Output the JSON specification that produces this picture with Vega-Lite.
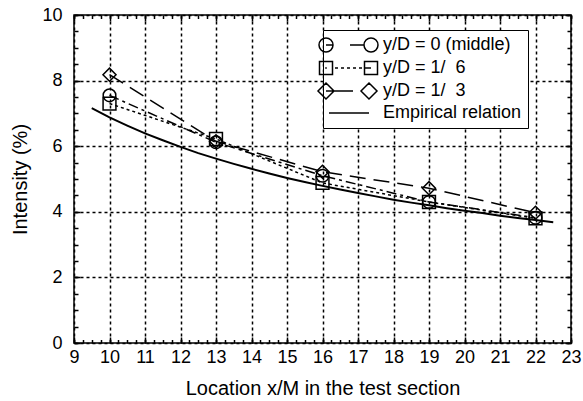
{
  "$schema": "https://vega.github.io/schema/vega-lite/v6.json",
  "width": 497,
  "height": 328,
  "autosize": {"type": "none"},
  "padding": {"left": 74, "top": 15, "right": 12, "bottom": 58},
  "background": "white",
  "config": {
    "view": {"stroke": "black", "strokeWidth": 1.5},
    "font": "Liberation Sans",
    "axis": {"labelFont": "Liberation Sans", "titleFont": "Liberation Sans", "labelColor": "black", "titleColor": "black", "tickColor": "black", "titleFontWeight": "normal", "domain": false}
  },
  "datasets": {
    "pts": [
      {"x": 10, "y": 7.55, "series": "y/D = 0 (middle)"},
      {"x": 13, "y": 6.12, "series": "y/D = 0 (middle)"},
      {"x": 16, "y": 5.1, "series": "y/D = 0 (middle)"},
      {"x": 19, "y": 4.3, "series": "y/D = 0 (middle)"},
      {"x": 22, "y": 3.82, "series": "y/D = 0 (middle)"},
      {"x": 10, "y": 7.3, "series": "y/D = 1/\u00a0\u00a06"},
      {"x": 13, "y": 6.22, "series": "y/D = 1/\u00a0\u00a06"},
      {"x": 16, "y": 4.88, "series": "y/D = 1/\u00a0\u00a06"},
      {"x": 19, "y": 4.3, "series": "y/D = 1/\u00a0\u00a06"},
      {"x": 22, "y": 3.8, "series": "y/D = 1/\u00a0\u00a06"},
      {"x": 10, "y": 8.18, "series": "y/D = 1/\u00a0\u00a03"},
      {"x": 13, "y": 6.15, "series": "y/D = 1/\u00a0\u00a03"},
      {"x": 16, "y": 5.22, "series": "y/D = 1/\u00a0\u00a03"},
      {"x": 19, "y": 4.72, "series": "y/D = 1/\u00a0\u00a03"},
      {"x": 22, "y": 3.97, "series": "y/D = 1/\u00a0\u00a03"}
    ],
    "emp": [
      {"x": 9.5, "y": 7.16}, {"x": 10, "y": 6.88}, {"x": 10.5, "y": 6.63}, {"x": 11, "y": 6.39},
      {"x": 11.5, "y": 6.18}, {"x": 12, "y": 5.98}, {"x": 12.5, "y": 5.79}, {"x": 13, "y": 5.62},
      {"x": 13.5, "y": 5.46}, {"x": 14, "y": 5.31}, {"x": 14.5, "y": 5.17}, {"x": 15, "y": 5.03},
      {"x": 15.5, "y": 4.91}, {"x": 16, "y": 4.79}, {"x": 16.5, "y": 4.68}, {"x": 17, "y": 4.57},
      {"x": 17.5, "y": 4.47}, {"x": 18, "y": 4.37}, {"x": 18.5, "y": 4.28}, {"x": 19, "y": 4.2},
      {"x": 19.5, "y": 4.11}, {"x": 20, "y": 4.03}, {"x": 20.5, "y": 3.96}, {"x": 21, "y": 3.88},
      {"x": 21.5, "y": 3.81}, {"x": 22, "y": 3.75}, {"x": 22.5, "y": 3.68}
    ]
  },
  "resolve": {"scale": {"shape": "independent"}, "axis": {"x": "independent", "y": "independent"}},
  "layer": [
    {
      "data": {"name": "emp"},
      "mark": {"type": "line", "color": "black", "strokeWidth": 2},
      "encoding": {
        "x": {"field": "x", "type": "quantitative", "scale": {"domain": [9, 23], "nice": false, "zero": false},
          "axis": {"orient": "bottom", "values": [9,10,11,12,13,14,15,16,17,18,19,20,21,22,23], "title": "Location x/M in the test section",
            "grid": true, "gridColor": "black", "gridDash": [3, 3], "gridWidth": 1.5, "gridOpacity": 1,
            "tickSize": -6, "tickWidth": 1.5, "labelPadding": 11, "labelFontSize": 18, "labelFlush": false, "labelOverlap": false,
            "titleFontSize": 20, "titleY": 51, "titleBaseline": "alphabetic"}},
        "y": {"field": "y", "type": "quantitative", "scale": {"domain": [0, 10], "nice": false, "zero": false},
          "axis": {"orient": "left", "values": [0,2,4,6,8,10], "title": "Intensity (%)",
            "grid": true, "gridColor": "black", "gridDash": [3, 3], "gridWidth": 1.5, "gridOpacity": 1,
            "tickSize": -6, "tickWidth": 1.5, "labelPadding": 18, "labelFontSize": 18, "labelOverlap": false, "labelFlush": false,
            "titleFontSize": 20, "titleX": -54, "titleY": 164, "titleBaseline": "middle", "titleAngle": -90}}
      }
    },
    {
      "data": {"name": "pts"},
      "mark": {"type": "line", "color": "black", "strokeWidth": 1.5},
      "encoding": {
        "x": {"field": "x", "type": "quantitative",
          "axis": {"orient": "bottom", "values": [9,9.25,9.5,9.75,10,10.25,10.5,10.75,11,11.25,11.5,11.75,12,12.25,12.5,12.75,13,13.25,13.5,13.75,14,14.25,14.5,14.75,15,15.25,15.5,15.75,16,16.25,16.5,16.75,17,17.25,17.5,17.75,18,18.25,18.5,18.75,19,19.25,19.5,19.75,20,20.25,20.5,20.75,21,21.25,21.5,21.75,22,22.25,22.5,22.75,23],
            "title": null, "labels": false, "grid": false, "tickSize": -3.5, "tickWidth": 1.5}},
        "y": {"field": "y", "type": "quantitative",
          "axis": {"orient": "left", "values": [0,0.5,1,1.5,2,2.5,3,3.5,4,4.5,5,5.5,6,6.5,7,7.5,8,8.5,9,9.5,10],
            "title": null, "labels": false, "grid": false, "tickSize": -4, "tickWidth": 1.5}},
        "strokeDash": {"field": "series", "type": "nominal",
          "scale": {"domain": ["y/D = 0 (middle)", "y/D = 1/\u00a0\u00a06", "y/D = 1/\u00a0\u00a03"], "range": [[10, 4, 3, 4], [3, 3], [16, 8]]},
          "legend": null}
      }
    },
    {
      "data": {"name": "pts"},
      "mark": {"type": "point", "filled": false, "color": "black", "strokeWidth": 1.5, "opacity": 1},
      "encoding": {
        "x": {"field": "x", "type": "quantitative",
          "axis": {"orient": "top", "values": [9,10,11,12,13,14,15,16,17,18,19,20,21,22,23], "title": null, "labels": false, "grid": false, "tickSize": -6, "tickWidth": 1.5}},
        "y": {"field": "y", "type": "quantitative",
          "axis": {"orient": "right", "values": [0,2,4,6,8,10], "title": null, "labels": false, "grid": false, "tickSize": -6, "tickWidth": 1.5}},
        "shape": {"field": "series", "type": "nominal",
          "scale": {"domain": ["y/D = 0 (middle)", "y/D = 1/\u00a0\u00a06", "y/D = 1/\u00a0\u00a03"], "range": ["circle", "square", "diamond"]},
          "legend": null},
        "size": {"field": "series", "type": "nominal",
          "scale": {"domain": ["y/D = 0 (middle)", "y/D = 1/\u00a0\u00a06", "y/D = 1/\u00a0\u00a03"], "range": [160, 170, 270]},
          "legend": null}
      }
    },
    {
      "data": {"name": "pts"},
      "mark": {"type": "point", "filled": false, "color": "black", "strokeWidth": 1.5, "opacity": 0, "size": 4},
      "encoding": {
        "x": {"field": "x", "type": "quantitative",
          "axis": {"orient": "top", "values": [9,9.25,9.5,9.75,10,10.25,10.5,10.75,11,11.25,11.5,11.75,12,12.25,12.5,12.75,13,13.25,13.5,13.75,14,14.25,14.5,14.75,15,15.25,15.5,15.75,16,16.25,16.5,16.75,17,17.25,17.5,17.75,18,18.25,18.5,18.75,19,19.25,19.5,19.75,20,20.25,20.5,20.75,21,21.25,21.5,21.75,22,22.25,22.5,22.75,23],
            "title": null, "labels": false, "grid": false, "tickSize": -3.5, "tickWidth": 1.5}},
        "y": {"field": "y", "type": "quantitative",
          "axis": {"orient": "right", "values": [0,0.5,1,1.5,2,2.5,3,3.5,4,4.5,5,5.5,6,6.5,7,7.5,8,8.5,9,9.5,10],
            "title": null, "labels": false, "grid": false, "tickSize": -4, "tickWidth": 1.5}},
        "shape": {"field": "series", "type": "nominal",
          "scale": {"domain": ["y/D = 0 (middle)", "y/D = 1/\u00a0\u00a06", "y/D = 1/\u00a0\u00a03", "Empirical relation"],
            "range": [
              "M-5,0A7,7 0 1,1 -19,0A7,7 0 1,1 -5,0M-12,0L-5,0M12,0L26,0M40,0A7,7 0 1,1 26,0A7,7 0 1,1 40,0",
              "M-18.5,-6.5L-5.5,-6.5L-5.5,6.5L-18.5,6.5ZM-12.8,0L-11.2,0M-3,0L0,0M3,0L6,0M9,0L12,0M15,0L18,0M21,0L24,0M26.5,-6.5L39.5,-6.5L39.5,6.5L26.5,6.5ZM26.5,0L33,0",
              "M-12,-8L-4,0L-12,8L-20,0ZM-12,0L15,0M31,-8L39,0L31,8L23,0Z",
              "M-9,0L31,0"
            ]},
          "legend": {"title": null, "orient": "none", "legendX": 249, "legendY": 15, "padding": 6,
            "strokeColor": "black", "fillColor": "white", "symbolSize": 4, "symbolStrokeWidth": 1.5,
            "symbolStrokeColor": "black", "symbolFillColor": "transparent", "symbolOpacity": 1,
            "labelFontSize": 18, "labelFont": "Liberation Sans", "labelColor": "black", "labelOffset": 36,
            "rowPadding": 2, "labelLimit": 300}}
      }
    }
  ]
}
